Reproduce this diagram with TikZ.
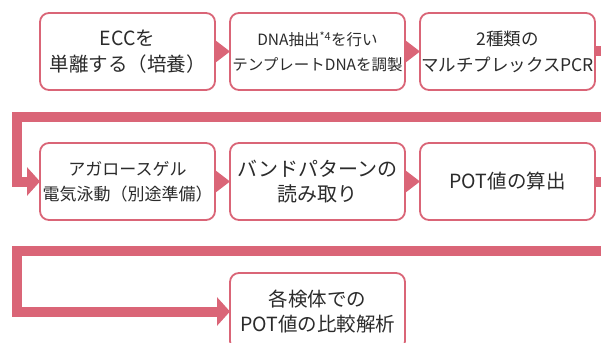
\documentclass[tikz,border=0pt]{standalone}
\usepackage{fontspec}
\setmainfont{Noto Sans CJK JP}
\usetikzlibrary{positioning,arrows.meta}
\definecolor{rose}{HTML}{DA6577}
\definecolor{ink}{HTML}{2B2B2B}

\begin{document}
\begin{tikzpicture}[x=1pt, y=-1pt,
    procbox/.style={draw=rose, line width=1.8pt, rounded corners=9pt, fill=white,
      text=ink, minimum width=175pt, minimum height=77pt, align=center,
      inner sep=1pt, outer sep=0pt},
    joint/.style={fill=rose},
    band/.style={draw=rose, line width=10pt, -{Triangle[length=13pt, width=28pt]}}]
  \useasboundingbox (0, 0) rectangle (601, 342);
  \clip (0, 0) rectangle (601, 342);
  % row 1
  \node [procbox, font=\fontsize{19.5}{26}\selectfont] (ecc) at (127.5, 51.5) {ECCを\\単離する（培養）};
  \node [procbox, font=\fontsize{15.5}{25}\selectfont, right=15pt of ecc] (dna) {DNA抽出\textsuperscript{*4}を行い\\テンプレートDNAを調製};
  \node [procbox, font=\fontsize{17.5}{26}\selectfont, right=15pt of dna] (pcr) {2種類の\\マルチプレックスPCR};
  % row 2
  \node [procbox, font=\fontsize{17}{25}\selectfont, below=53pt of ecc] (gel) {アガロースゲル\\電気泳動（別途準備）};
  \node [procbox, font=\fontsize{20}{25}\selectfont, right=15pt of gel] (band) {バンドパターンの\\読み取り};
  \node [procbox, font=\fontsize{19.5}{25}\selectfont, right=15pt of band] (pot) {POT値の算出};
  % row 3
  \node [procbox, font=\fontsize{19.5}{25}\selectfont, below=53pt of band] (cmp) {各検体での\\POT値の比較解析};
  % small joints
  \fill [joint] ([yshift=11.5pt]ecc.east) -- ([yshift=-11.5pt]ecc.east) -- (dna.west) -- cycle;
  \fill [joint] ([yshift=11.5pt]dna.east) -- ([yshift=-11.5pt]dna.east) -- (pcr.west) -- cycle;
  \fill [joint] ([yshift=11.5pt]gel.east) -- ([yshift=-11.5pt]gel.east) -- (band.west) -- cycle;
  \fill [joint] ([yshift=11.5pt]band.east) -- ([yshift=-11.5pt]band.east) -- (pot.west) -- cycle;
  % wrap arrows
  \draw [band] (pcr.east) -- ++(20, 0) |- (17, 117) |- (gel.west);
  \draw [band] (pot.east) -- ++(20, 0) |- (17, 251) |- (cmp.west);
\end{tikzpicture}
\end{document}
